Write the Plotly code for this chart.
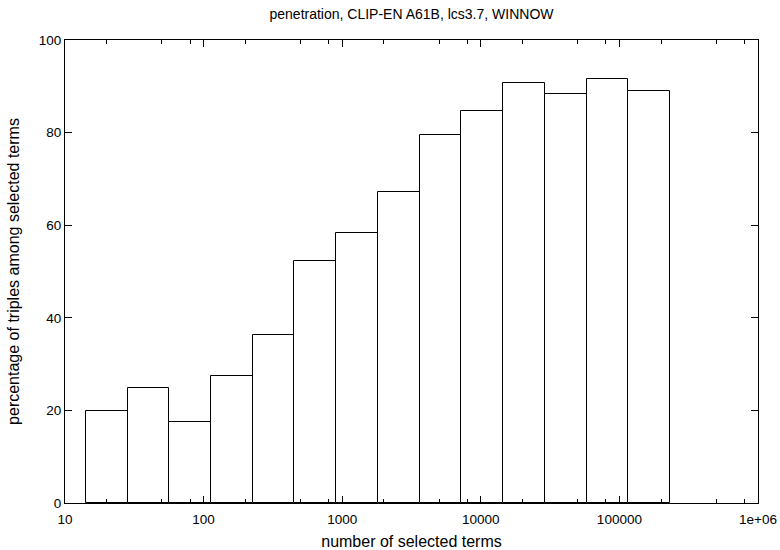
import numpy as np
import plotly.graph_objects as go

# Bin centres (number of selected terms) and bar heights (percentage)
bin_centers = [20, 40, 80, 160, 320, 640, 1280, 2560, 5120, 10240, 20480, 40960, 81920, 163840]
percentages = [19.9, 24.9, 17.4, 27.5, 36.2, 52.3, 58.3, 67.1, 79.4, 84.6, 90.7, 88.3, 91.6, 89.0]

x_tick_vals = [10, 100, 1000, 10000, 100000, 1000000]
x_tick_text = ["10", "100", "1000", "10000", "100000", "1e+06"]
x_minor_mult = [2, 5, 8]
y_tick_vals = [0, 20, 40, 60, 80, 100]

title = "penetration, CLIP-EN A61B, lcs3.7, WINNOW"
x_title = "number of selected terms"
y_title = "percentage of triples among selected terms"

logx = np.log10(bin_centers)
bar_w = np.log10(2)

minor_vals = [np.log10(d * m) for d in x_tick_vals[:-1] for m in x_minor_mult]

font = dict(family="Liberation Sans, Arial, sans-serif", size=13.5, color="black")

fig = go.Figure()
fig.add_trace(go.Bar(
    x=logx, y=percentages, width=bar_w,
    marker=dict(color="white", line=dict(color="black", width=1)),
    showlegend=False, hoverinfo="skip",
))

fig.update_layout(
    width=780, height=550,
    margin=dict(l=65, r=22, t=40, b=47),
    paper_bgcolor="white", plot_bgcolor="white",
    font=font,
    title=dict(text=title, x=0.5, xref="paper", xanchor="center",
               y=1 - 14 / 550, yref="container", yanchor="middle",
               font=dict(size=14), automargin=False),
    bargap=0,
)
fig.update_xaxes(
    range=[1, 6], tickmode="array",
    tickvals=[np.log10(v) for v in x_tick_vals], ticktext=x_tick_text,
    ticks="inside", ticklen=7, tickcolor="black", tickwidth=1,
    showline=True, linecolor="black", linewidth=1, mirror="ticks",
    showgrid=False, zeroline=False, ticklabelstandoff=4, automargin=False,
    minor=dict(tickmode="array", tickvals=minor_vals, ticks="inside",
               ticklen=4, tickcolor="black", tickwidth=1, showgrid=False),
    title=dict(text=x_title),
)
fig.update_yaxes(
    range=[0, 100], tickmode="array", tickvals=y_tick_vals,
    ticks="inside", ticklen=7, tickcolor="black", tickwidth=1,
    showline=True, linecolor="black", linewidth=1, mirror="ticks",
    showgrid=False, zeroline=False, automargin=False,
    title=dict(text=y_title),
)

fig.write_html("out.html")
